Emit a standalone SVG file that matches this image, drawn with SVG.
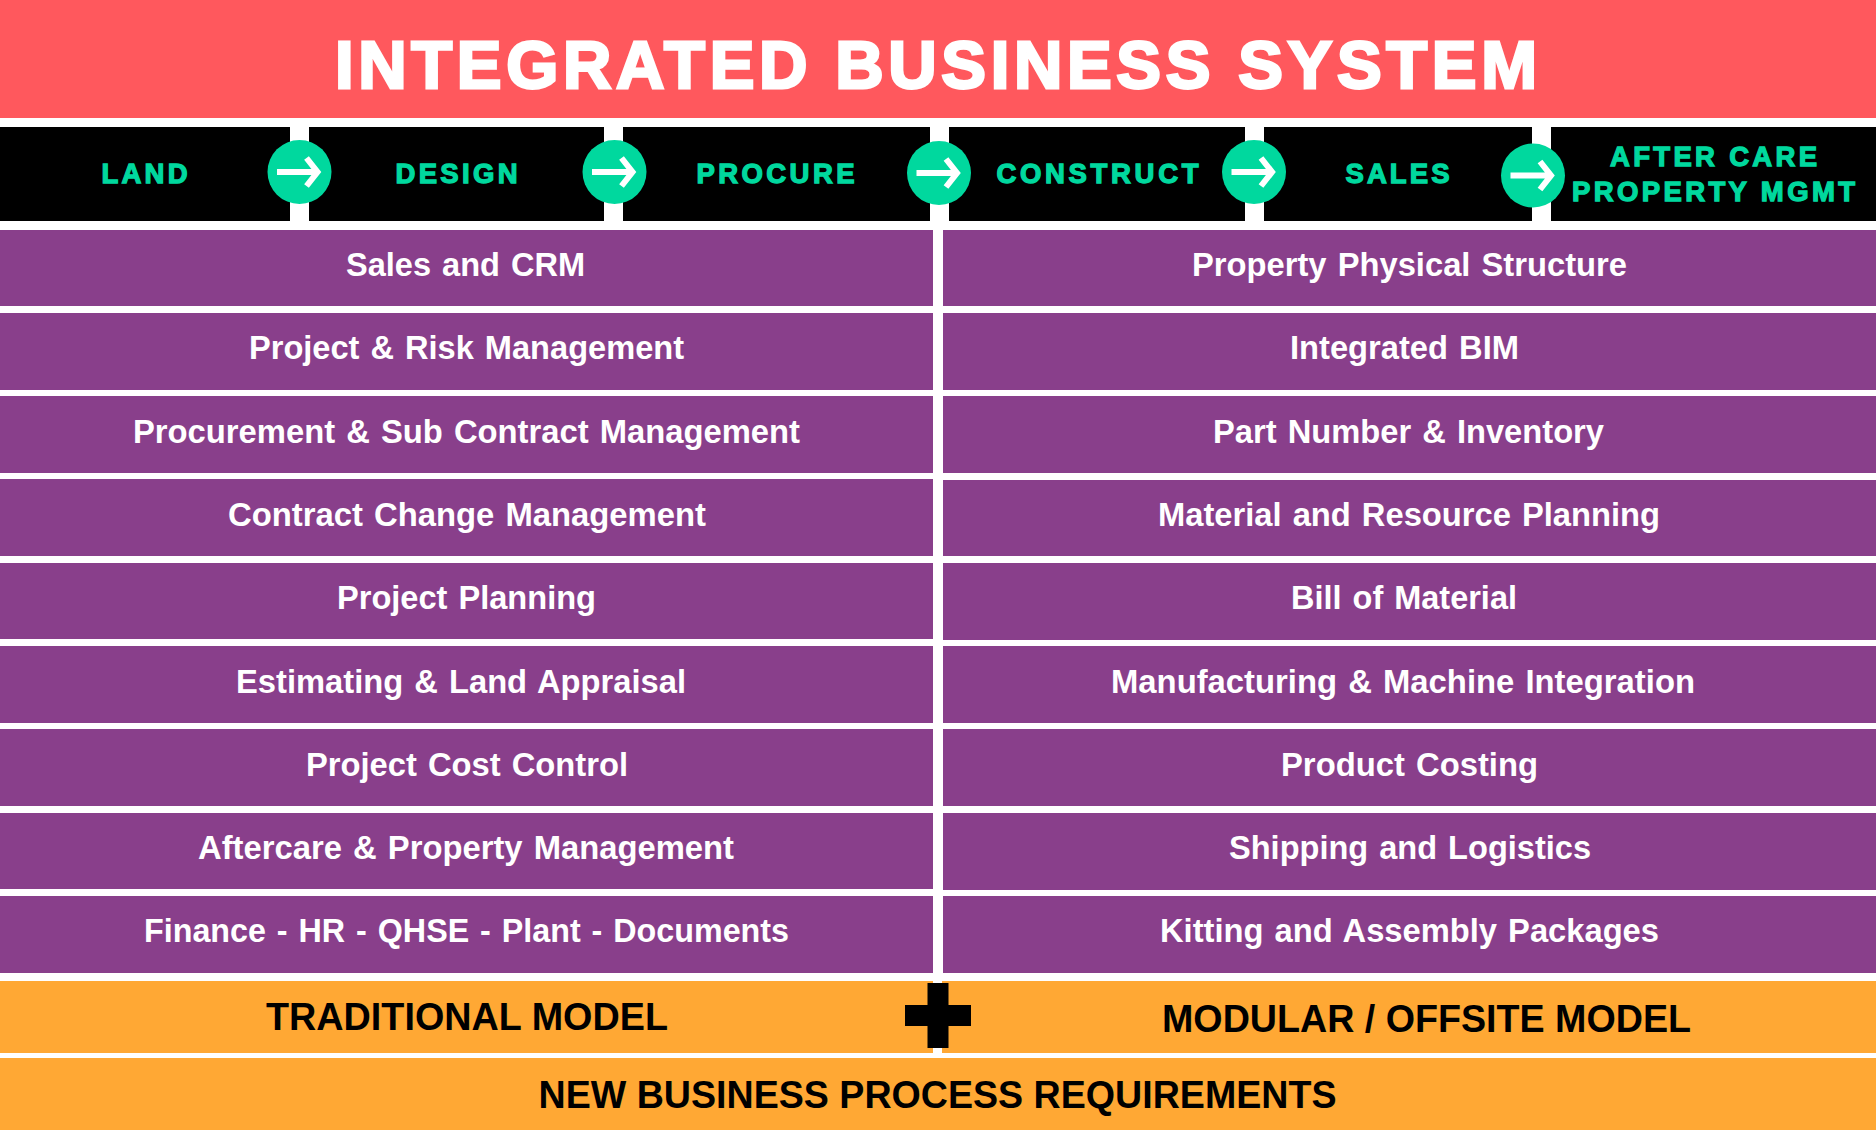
<svg xmlns="http://www.w3.org/2000/svg" width="1876" height="1140" viewBox="0 0 1876 1140">
<defs>
<g id="arrow"><circle r="32" fill="#00d89e"/><path d="M-22.500 0H18M7-14L18 0L7 14" fill="none" stroke="#fff" stroke-width="6"/></g>
</defs>
<style>
text{font-family:"Liberation Sans",Arial,sans-serif;font-weight:700}
.p{fill:#893f8b}.k{fill:#000}.o{fill:#ffa834}
.t{font-size:33px;fill:#fff;word-spacing:2px}
.s{font-size:27.500px;fill:#00d89e;stroke:#00d89e;stroke-width:1.300}
.b{font-size:38px;fill:#000}
</style>
<rect width="1876" height="1140" fill="#fff"/>
<g id="title"><rect width="1876" height="118" fill="#ff585d"/><text x="335" y="88" font-size="67" fill="#fff" stroke="#fff" stroke-width="2.800" textLength="1202">INTEGRATED BUSINESS SYSTEM</text></g>
<g id="stage-land"><rect class="k" x="0" y="127" width="290" height="94"/><text class="s" x="101.500" y="183" textLength="86">LAND</text></g>
<g id="stage-design"><rect class="k" x="309" y="127" width="295" height="94"/><text class="s" x="395.500" y="183" textLength="122">DESIGN</text></g>
<g id="stage-procure"><rect class="k" x="623" y="127" width="307" height="94"/><text class="s" x="696.500" y="183" textLength="158">PROCURE</text></g>
<g id="stage-construct"><rect class="k" x="949" y="127" width="296" height="94"/><text class="s" x="996.500" y="183" textLength="202">CONSTRUCT</text></g>
<g id="stage-sales"><rect class="k" x="1264" y="127" width="268" height="94"/><text class="s" x="1345.500" y="183" textLength="104">SALES</text></g>
<g id="stage-aftercare"><rect class="k" x="1551" y="127" width="325" height="94"/><text class="s" x="1610" y="165.500" textLength="207">AFTER CARE</text><text class="s" x="1572" y="200.500" textLength="283">PROPERTY MGMT</text></g>
<g id="connectors">
<use href="#arrow" x="299.500" y="172"/><use href="#arrow" x="614.500" y="172"/><use href="#arrow" x="939" y="173"/><use href="#arrow" x="1254" y="172"/><use href="#arrow" x="1533" y="175.500"/>
</g>
<g id="left-1"><rect class="p" y="230" width="933" height="76"/><text class="t" x="346" y="275.500" textLength="239" lengthAdjust="spacingAndGlyphs">Sales and CRM</text></g>
<g id="left-2"><rect class="p" y="313" width="933" height="77"/><text class="t" x="249" y="359" textLength="435" lengthAdjust="spacingAndGlyphs">Project &amp; Risk Management</text></g>
<g id="left-3"><rect class="p" y="396" width="933" height="77"/><text class="t" x="133" y="442.500" textLength="667" lengthAdjust="spacingAndGlyphs">Procurement &amp; Sub Contract Management</text></g>
<g id="left-4"><rect class="p" y="479" width="933" height="77"/><text class="t" x="228" y="525.500" textLength="478" lengthAdjust="spacingAndGlyphs">Contract Change Management</text></g>
<g id="left-5"><rect class="p" y="563" width="933" height="76"/><text class="t" x="337" y="608.500" textLength="259" lengthAdjust="spacingAndGlyphs">Project Planning</text></g>
<g id="left-6"><rect class="p" y="646" width="933" height="77"/><text class="t" x="236" y="692.500" textLength="450" lengthAdjust="spacingAndGlyphs">Estimating &amp; Land Appraisal</text></g>
<g id="left-7"><rect class="p" y="729" width="933" height="77"/><text class="t" x="306" y="775.500" textLength="322" lengthAdjust="spacingAndGlyphs">Project Cost Control</text></g>
<g id="left-8"><rect class="p" y="813" width="933" height="76"/><text class="t" x="198" y="859" textLength="536" lengthAdjust="spacingAndGlyphs">Aftercare &amp; Property Management</text></g>
<g id="left-9"><rect class="p" y="896" width="933" height="77"/><text class="t" x="144" y="942" textLength="645" lengthAdjust="spacingAndGlyphs">Finance - HR - QHSE - Plant - Documents</text></g>
<g id="right-1"><rect class="p" x="943" y="230" width="933" height="76"/><text class="t" x="1192" y="275.500" textLength="435" lengthAdjust="spacingAndGlyphs">Property Physical Structure</text></g>
<g id="right-2"><rect class="p" x="943" y="313" width="933" height="77"/><text class="t" x="1290" y="359" textLength="229" lengthAdjust="spacingAndGlyphs">Integrated BIM</text></g>
<g id="right-3"><rect class="p" x="943" y="396" width="933" height="77"/><text class="t" x="1213" y="442.500" textLength="391" lengthAdjust="spacingAndGlyphs">Part Number &amp; Inventory</text></g>
<g id="right-4"><rect class="p" x="943" y="480" width="933" height="76"/><text class="t" x="1158" y="525.500" textLength="502" lengthAdjust="spacingAndGlyphs">Material and Resource Planning</text></g>
<g id="right-5"><rect class="p" x="943" y="563" width="933" height="77"/><text class="t" x="1291" y="608.500" textLength="226" lengthAdjust="spacingAndGlyphs">Bill of Material</text></g>
<g id="right-6"><rect class="p" x="943" y="646" width="933" height="77"/><text class="t" x="1111" y="692.500" textLength="584" lengthAdjust="spacingAndGlyphs">Manufacturing &amp; Machine Integration</text></g>
<g id="right-7"><rect class="p" x="943" y="729" width="933" height="77"/><text class="t" x="1281" y="775.500" textLength="257" lengthAdjust="spacingAndGlyphs">Product Costing</text></g>
<g id="right-8"><rect class="p" x="943" y="813" width="933" height="77"/><text class="t" x="1229" y="859" textLength="362" lengthAdjust="spacingAndGlyphs">Shipping and Logistics</text></g>
<g id="right-9"><rect class="p" x="943" y="896" width="933" height="77"/><text class="t" x="1160" y="942" textLength="499" lengthAdjust="spacingAndGlyphs">Kitting and Assembly Packages</text></g>
<g id="model-traditional"><rect class="o" y="981" width="933" height="72"/><text class="b" x="266" y="1030" textLength="402" lengthAdjust="spacingAndGlyphs">TRADITIONAL MODEL</text></g>
<g id="model-modular"><rect class="o" x="942" y="981" width="934" height="72"/><text class="b" x="1162" y="1032" textLength="529" lengthAdjust="spacingAndGlyphs">MODULAR / OFFSITE MODEL</text></g>
<g id="plus"><path class="k" d="M927.500 983H948.500V1005H971V1026H948.500V1048H927.500V1026H905V1005H927.500Z"/></g>
<g id="requirements"><rect class="o" y="1058" width="1876" height="72"/><text class="b" x="538.500" y="1108" textLength="798" lengthAdjust="spacingAndGlyphs">NEW BUSINESS PROCESS REQUIREMENTS</text></g>
</svg>
